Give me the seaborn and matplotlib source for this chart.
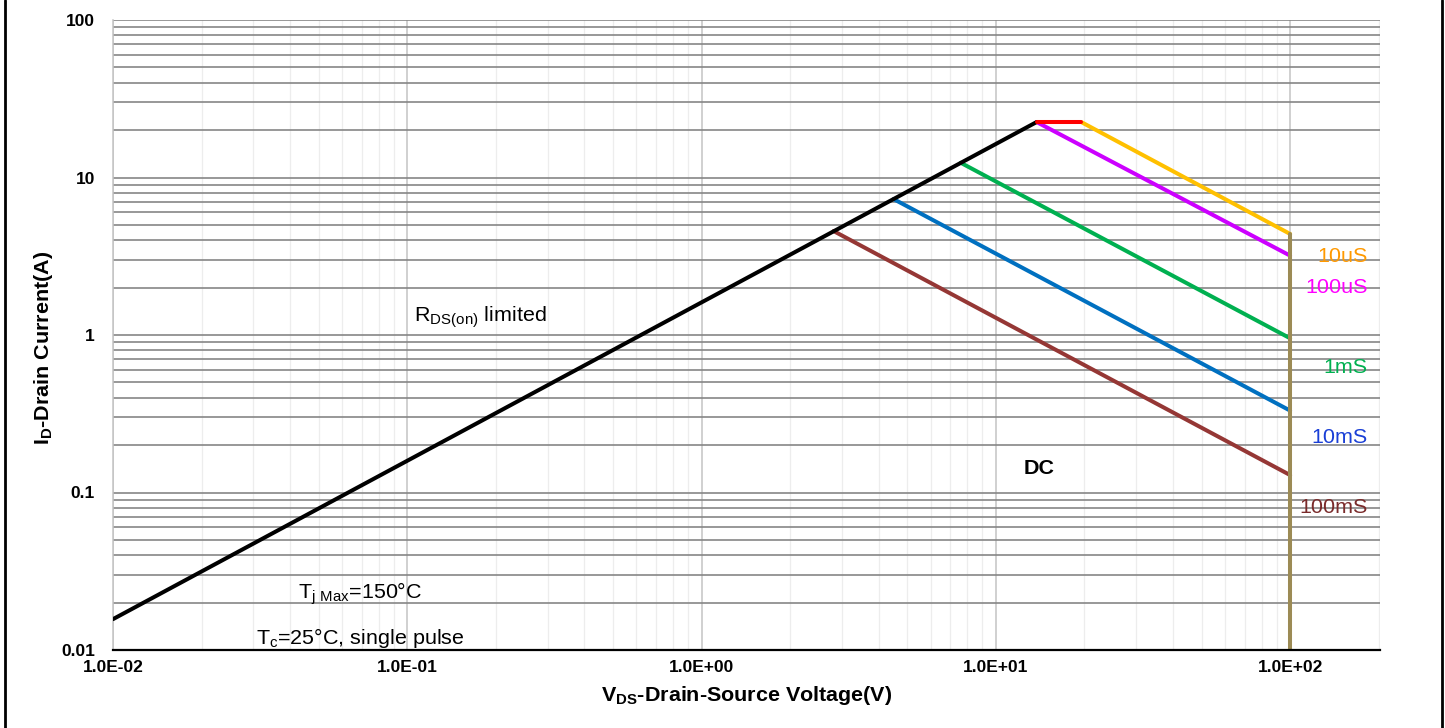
import matplotlib
matplotlib.use("Agg")
import numpy as np
import pandas as pd
import seaborn as sns
import matplotlib.pyplot as plt
from matplotlib import font_manager as fm
from matplotlib.ticker import FixedLocator, FixedFormatter, NullFormatter
from matplotlib.lines import Line2D

# ---------------- data ----------------
rds_v = [0.01, 13.76]          # RDS(on) limited line
rds_i = [0.0157, 22.5]
imax_v = [13.76, 19.5]         # current limit
imax_i = [22.5, 22.5]
us10_v = [19.5, 100.0]
us10_i = [22.5, 4.38]
us100_v = [13.76, 100.0]
us100_i = [22.5, 3.19]
ms1_v = [7.6, 100.0]
ms1_i = [12.4, 0.953]
ms10_v = [4.49, 100.0]
ms10_i = [7.30, 0.331]
ms100_v = [2.81, 100.0]
ms100_i = [4.57, 0.129]
bv_v = [100.0, 100.0]          # VDS max line
bv_i = [4.38, 0.01]

x_ticks = [0.01, 0.1, 1, 10, 100]
x_ticklabels = ["1.0E-02", "1.0E-01", "1.0E+00", "1.0E+01", "1.0E+02"]
y_ticks = [0.01, 0.1, 1, 10, 100]
y_ticklabels = ["0.01", "0.1", "1", "10", "100"]

pulse_labels = ["10uS", "100uS", "1mS", "10mS", "100mS"]
pulse_label_y = [3.17, 1.99, 0.626, 0.222, 0.0798]
pulse_label_colors = ["#ff9900", "#ff00ff", "#00b050", "#1a3fd6", "#7a2b2b"]

# ---------------- style ----------------
sns.set_theme(style="white")
names = {f.name for f in fm.fontManager.ttflist}
NARROW = "Liberation Sans Narrow" in names
FONT = "Liberation Sans Narrow" if NARROW else "Liberation Sans"
plt.rcParams["font.family"] = [FONT, "DejaVu Sans"]
plt.rcParams["mathtext.fontset"] = "custom"
plt.rcParams["mathtext.rm"] = FONT
plt.rcParams["mathtext.bf"] = FONT + ":bold"
plt.rcParams["text.color"] = "black"
plt.rcParams["axes.labelcolor"] = "black"
k = 1.0 if NARROW else 0.86

fig = plt.figure(figsize=(14.45, 7.28), dpi=100)
ax = fig.add_axes([113 / 1445, 1 - 650 / 728, (1380 - 113) / 1445, (650 - 20) / 728])
ax.set_xscale("log")
ax.set_yscale("log")
ax.set_xlim(0.01, 202)
ax.set_ylim(0.01, 100)

segments = [
    (ms100_v, ms100_i, "#953735", 2),
    (ms10_v, ms10_i, "#0070c0", 2),
    (ms1_v, ms1_i, "#00b050", 2),
    (us100_v, us100_i, "#cc00ff", 2),
    (us10_v, us10_i, "#ffc000", 2),
    (rds_v, rds_i, "#000000", 3),
    (imax_v, imax_i, "#ff0000", 4),
    (bv_v, bv_i, "#9c8b55", 5),
]
for xv, yv, col, z in segments:
    df = pd.DataFrame({"V": xv, "I": yv})
    sns.lineplot(data=df, x="V", y="I", ax=ax, color=col, lw=2.9,
                 estimator=None, sort=False, zorder=z, legend=False)

# grid
ax.yaxis.set_major_locator(FixedLocator(y_ticks))
ax.yaxis.set_major_formatter(FixedFormatter(y_ticklabels))
ax.xaxis.set_major_locator(FixedLocator(x_ticks))
ax.xaxis.set_major_formatter(FixedFormatter(x_ticklabels))
ymin = [m * 10.0 ** e for e in range(-2, 2) for m in range(2, 10)]
xmin = [m * 10.0 ** e for e in range(-2, 3) for m in range(2, 10) if m * 10.0 ** e < 202]
ax.yaxis.set_minor_locator(FixedLocator(ymin))
ax.xaxis.set_minor_locator(FixedLocator(xmin))
ax.yaxis.set_minor_formatter(NullFormatter())
ax.xaxis.set_minor_formatter(NullFormatter())
ax.grid(True, which="major", axis="y", color="#868686", lw=1.2)
ax.grid(True, which="minor", axis="y", color="#868686", lw=1.2)
ax.grid(True, which="major", axis="x", color="#c3c3c3", lw=1.1)
ax.grid(True, which="minor", axis="x", color="#ededed", lw=0.9)
ax.set_axisbelow(True)

for s in ["top", "right"]:
    ax.spines[s].set_visible(False)
ax.spines["left"].set_color("#c3c3c3")
ax.spines["left"].set_linewidth(1.1)
ax.spines["bottom"].set_color("black")
ax.spines["bottom"].set_linewidth(1.6)
ax.spines["bottom"].set_zorder(6)

ax.tick_params(axis="both", which="both", length=0)
ax.tick_params(axis="x", pad=7)
ax.tick_params(axis="y", pad=13)
for lab in ax.get_xticklabels() + ax.get_yticklabels():
    lab.set_fontweight("bold")
    lab.set_fontsize(14.5 * k)
    lab.set_color("black")

ax.set_xlabel(r"V$\mathregular{_{DS}}$-Drain-Source Voltage(V)", fontsize=18 * k,
              fontweight="bold", color="black")
ax.set_ylabel(r"I$\mathregular{_{D}}$-Drain Current(A)", fontsize=18 * k,
              fontweight="bold", color="black")
ax.xaxis.set_label_coords(0.5, -0.073)
ax.xaxis.label.set_va("center")
ax.yaxis.set_label_coords(-0.055, 0.48)
ax.yaxis.label.set_va("center")

# annotations
for lab, yv, col in zip(pulse_labels, pulse_label_y, pulse_label_colors):
    ax.text(183, yv, lab, color=col, fontsize=18 * k, ha="right", va="center", zorder=7)
ax.text(14.0, 0.143, "DC", fontsize=18 * k, fontweight="bold", ha="center", va="center")
ax.text(0.1056, 1.21, r"R$\mathregular{_{DS(on)}}$ limited", fontsize=18 * k,
        ha="left", va="baseline")
ax.text(0.0692, 0.0213, r"T$\mathregular{_{j\ Max}}$=150°C", fontsize=18 * k,
        ha="center", va="baseline")
ax.text(0.0692, 0.0109, r"T$\mathregular{_{c}}$=25°C, single pulse", fontsize=18 * k,
        ha="center", va="baseline")

# figure side borders
fig.add_artist(Line2D([5 / 1445, 5 / 1445], [0, 1], transform=fig.transFigure,
                      color="black", lw=2))
fig.add_artist(Line2D([1442 / 1445, 1442 / 1445], [0, 1], transform=fig.transFigure,
                      color="black", lw=2))

fig.savefig("out.png", dpi=100, facecolor="white")
